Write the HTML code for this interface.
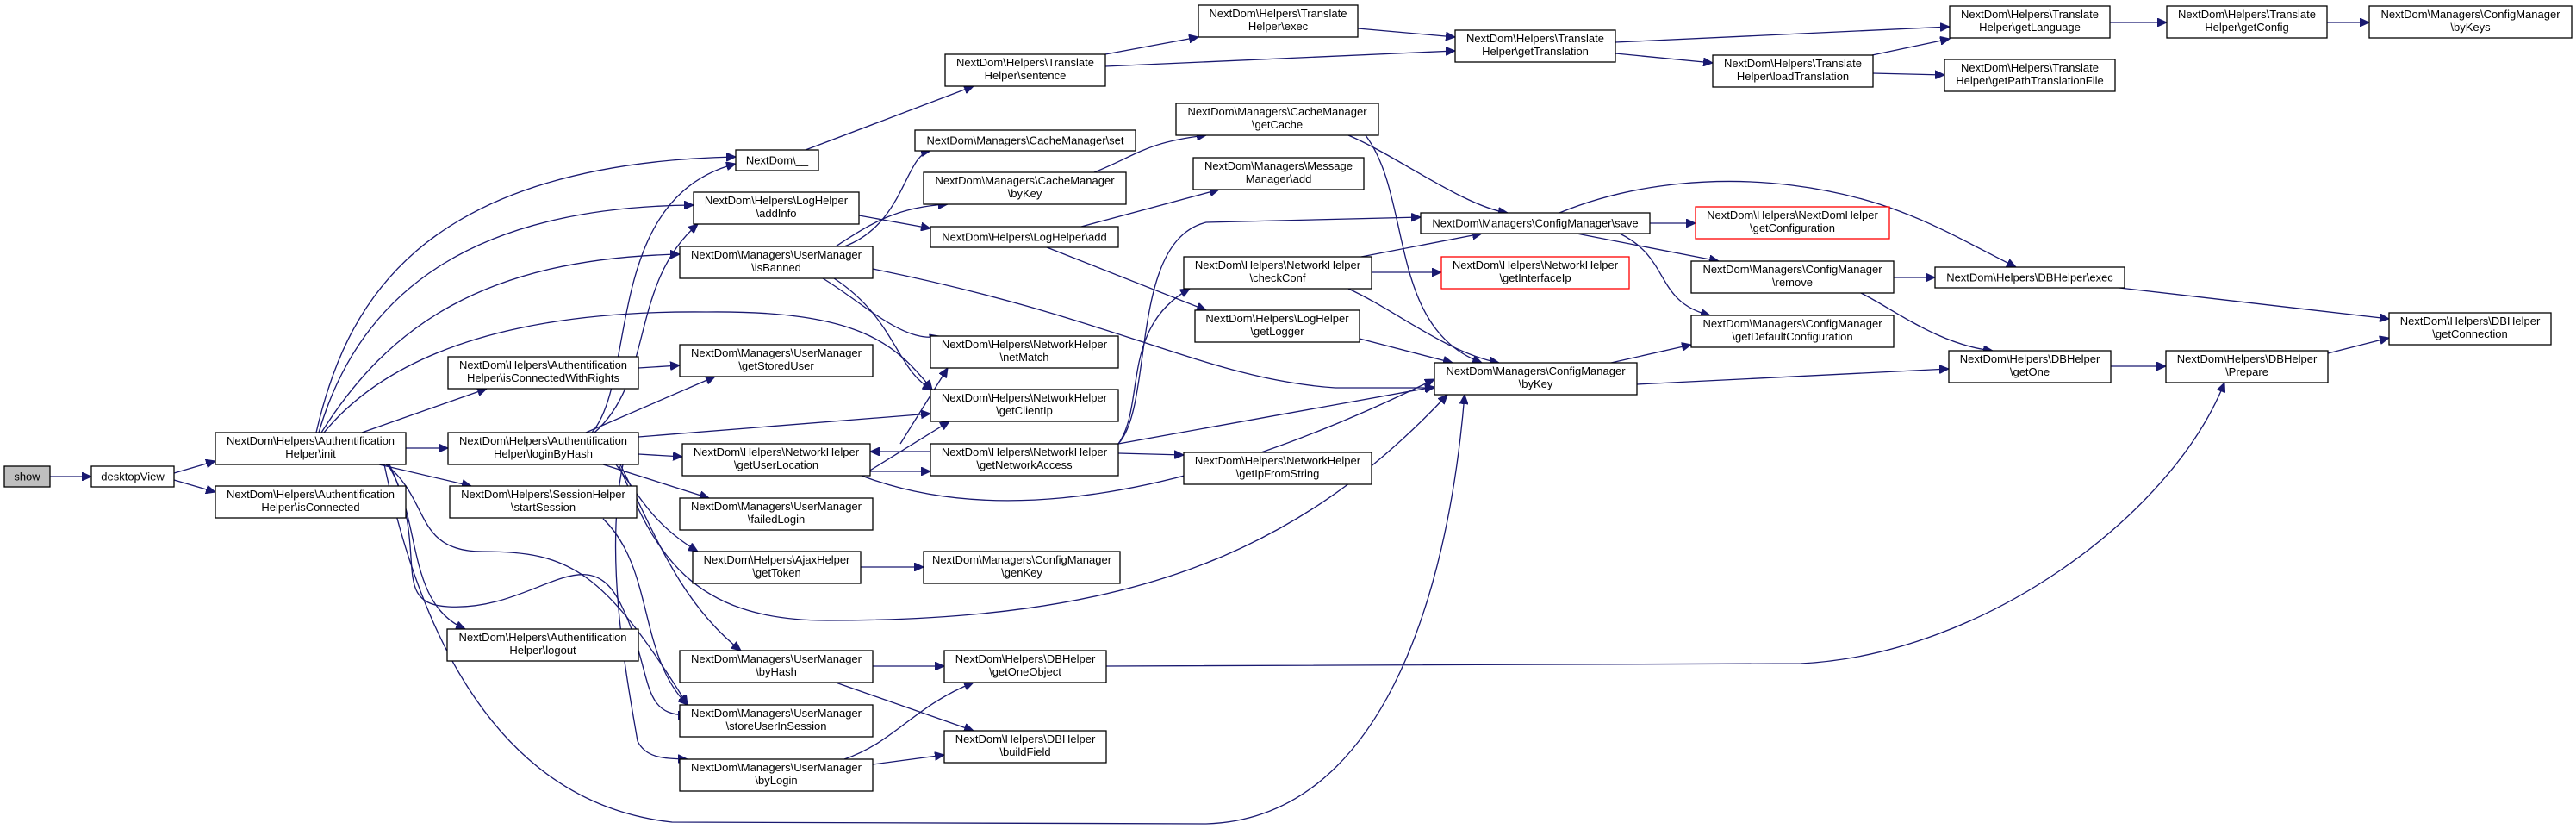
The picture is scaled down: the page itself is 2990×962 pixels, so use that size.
<!DOCTYPE html>
<html><head><meta charset="utf-8"><style>
html,body{margin:0;padding:0;background:#fff}
svg{display:block}
text{font-family:"Liberation Sans",Arial,sans-serif;font-size:13px;fill:#000}
.n{fill:#fff;stroke:#000;stroke-width:1.3}
.r{fill:#fff;stroke:#f00;stroke-width:1.3}
.e{fill:none;stroke:#191970;stroke-width:1.3;marker-end:url(#a)}
</style></head><body>
<svg width="2990" height="962" viewBox="0 0 2990 962" xmlns="http://www.w3.org/2000/svg">
<defs><marker id="a" markerWidth="12" markerHeight="10" refX="11" refY="5" orient="auto" markerUnits="userSpaceOnUse"><path d="M0,0 L11,5 L0,10 z" fill="#191970" stroke="#191970"/></marker></defs>
<g>
<path class="e" d="M58,553 L106,553"/>
<path class="e" d="M202,549 L250,535"/>
<path class="e" d="M202,557 L250,571"/>
<path class="e" d="M367,502 C400,360 480,190 854,182"/>
<path class="e" d="M370,502 C420,330 560,240 805,238"/>
<path class="e" d="M373,502 C450,380 560,300 789,295"/>
<path class="e" d="M376,502 C460,400 620,360 820,362 C1000,360 1040,400 1082,452"/>
<path class="e" d="M420,502 L565,451"/>
<path class="e" d="M471,520 L520,520"/>
<path class="e" d="M440,539 L547,564"/>
<path class="e" d="M448,539 C500,580 480,640 560,640 C660,640 700,660 798,818"/>
<path class="e" d="M450,539 C490,600 470,700 540,730"/>
<path class="e" d="M452,539 C500,640 450,700 520,704 C620,710 680,620 720,700 C760,780 740,830 798,830"/>
<path class="e" d="M446,539 C480,700 560,930 780,954 L1400,956 C1600,950 1680,700 1700,458"/>
<path class="e" d="M687,502 C740,440 700,230 854,190"/>
<path class="e" d="M690,502 C760,440 730,330 810,260"/>
<path class="e" d="M680,502 L830,437"/>
<path class="e" d="M741,507 L1080,480"/>
<path class="e" d="M741,527 L792,530"/>
<path class="e" d="M700,539 L823,578"/>
<path class="e" d="M715,539 C745,580 760,610 810,640"/>
<path class="e" d="M720,539 C760,620 790,700 860,755"/>
<path class="e" d="M723,539 C700,650 730,800 740,860 C750,880 770,880 798,881"/>
<path class="e" d="M718,539 C760,640 800,720 960,720 C1300,720 1500,650 1680,458"/>
<path class="e" d="M700,602 C760,660 740,760 798,818"/>
<path class="e" d="M741,427 L789,424"/>
<path class="e" d="M1013,312 C1300,370 1400,440 1550,450 L1665,450"/>
<path class="e" d="M955,323 C1000,350 1050,400 1090,390"/>
<path class="e" d="M968,323 C1040,370 1040,430 1082,452"/>
<path class="e" d="M980,286 C1050,260 1050,180 1080,175"/>
<path class="e" d="M970,286 C1010,260 1040,240 1100,237"/>
<path class="e" d="M997,250 L1080,265"/>
<path class="e" d="M935,174 L1130,100"/>
<path class="e" d="M1283,63 L1391,43"/>
<path class="e" d="M1283,77 L1689,59"/>
<path class="e" d="M1576,33 L1689,43"/>
<path class="e" d="M1875,49 L2263,31"/>
<path class="e" d="M1875,62 L1988,73"/>
<path class="e" d="M2173,64 L2263,45"/>
<path class="e" d="M2173,85 L2257,87"/>
<path class="e" d="M2449,26 L2515,26"/>
<path class="e" d="M2701,26 L2750,26"/>
<path class="e" d="M1270,200 C1320,180 1330,165 1400,157"/>
<path class="e" d="M1565,157 C1620,180 1700,240 1750,247"/>
<path class="e" d="M1585,157 C1640,230 1610,380 1720,421"/>
<path class="e" d="M1255,263 L1415,220"/>
<path class="e" d="M1215,287 L1400,360"/>
<path class="e" d="M1578,393 L1686,421"/>
<path class="e" d="M1045,515 L1100,427"/>
<path class="e" d="M1000,552 L1102,489"/>
<path class="e" d="M1010,547 L1080,547"/>
<path class="e" d="M1000,552 C1100,590 1300,620 1665,440"/>
<path class="e" d="M1080,524 L1010,524"/>
<path class="e" d="M1298,515 C1330,470 1300,380 1381,335"/>
<path class="e" d="M1298,515 C1340,470 1310,280 1400,258 L1649,252"/>
<path class="e" d="M1298,515 L1665,449"/>
<path class="e" d="M1298,526 L1374,528"/>
<path class="e" d="M1580,298 L1720,271"/>
<path class="e" d="M1592,316 L1673,316"/>
<path class="e" d="M1565,335 C1620,360 1680,410 1740,421"/>
<path class="e" d="M1915,259 L1968,259"/>
<path class="e" d="M1810,247 C1900,210 2000,205 2080,215 C2200,230 2260,270 2340,310"/>
<path class="e" d="M1830,271 L1995,303"/>
<path class="e" d="M1880,271 C1940,300 1920,350 1985,366"/>
<path class="e" d="M1870,421 L1963,400"/>
<path class="e" d="M1900,446 L2262,428"/>
<path class="e" d="M2198,322 L2246,322"/>
<path class="e" d="M2160,340 C2200,360 2250,400 2313,407"/>
<path class="e" d="M2460,334 L2773,370"/>
<path class="e" d="M2450,425 L2514,425"/>
<path class="e" d="M2702,410 L2773,392"/>
<path class="e" d="M1013,773 L1096,773"/>
<path class="e" d="M970,792 L1130,848"/>
<path class="e" d="M980,881 C1040,860 1060,820 1130,792"/>
<path class="e" d="M1013,887 L1096,876"/>
<path class="e" d="M1284,773 L2090,770 C2300,760 2520,600 2582,444"/>
<path class="e" d="M999,658 L1072,658"/>
</g>
<g>
<rect x="5" y="541" width="53" height="24" fill="#bfbfbf" stroke="#000" stroke-width="1.3"/><text x="31.5" y="557.5" text-anchor="middle">show</text>
<rect class="n" x="106" y="541" width="96" height="24"/><text x="154" y="557.5" text-anchor="middle">desktopView</text>
</g>
<g text-anchor="middle">
<rect class="n" x="250" y="502" width="221" height="37"/><text x="360.5" y="516">NextDom\Helpers\Authentification</text><text x="360.5" y="531">Helper\init</text>
<rect class="n" x="250" y="564" width="221" height="37"/><text x="360.5" y="578">NextDom\Helpers\Authentification</text><text x="360.5" y="593">Helper\isConnected</text>
<rect class="n" x="854" y="174" width="96" height="24"/><text x="902" y="190.5">NextDom\__</text>
<rect class="n" x="805" y="223" width="192" height="37"/><text x="901" y="237">NextDom\Helpers\LogHelper</text><text x="901" y="252">\addInfo</text>
<rect class="n" x="789" y="286" width="224" height="37"/><text x="901" y="300">NextDom\Managers\UserManager</text><text x="901" y="315">\isBanned</text>
<rect class="n" x="520" y="414" width="221" height="37"/><text x="630.5" y="428">NextDom\Helpers\Authentification</text><text x="630.5" y="443">Helper\isConnectedWithRights</text>
<rect class="n" x="789" y="400" width="224" height="37"/><text x="901" y="414">NextDom\Managers\UserManager</text><text x="901" y="429">\getStoredUser</text>
<rect class="n" x="520" y="502" width="221" height="37"/><text x="630.5" y="516">NextDom\Helpers\Authentification</text><text x="630.5" y="531">Helper\loginByHash</text>
<rect class="n" x="792" y="515" width="218" height="37"/><text x="901" y="529">NextDom\Helpers\NetworkHelper</text><text x="901" y="544">\getUserLocation</text>
<rect class="n" x="522" y="564" width="217" height="37"/><text x="630.5" y="578">NextDom\Helpers\SessionHelper</text><text x="630.5" y="593">\startSession</text>
<rect class="n" x="789" y="578" width="224" height="37"/><text x="901" y="592">NextDom\Managers\UserManager</text><text x="901" y="607">\failedLogin</text>
<rect class="n" x="804" y="640" width="195" height="37"/><text x="901.5" y="654">NextDom\Helpers\AjaxHelper</text><text x="901.5" y="669">\getToken</text>
<rect class="n" x="1072" y="640" width="228" height="37"/><text x="1186" y="654">NextDom\Managers\ConfigManager</text><text x="1186" y="669">\genKey</text>
<rect class="n" x="519" y="730" width="222" height="37"/><text x="630" y="744">NextDom\Helpers\Authentification</text><text x="630" y="759">Helper\logout</text>
<rect class="n" x="789" y="755" width="224" height="37"/><text x="901" y="769">NextDom\Managers\UserManager</text><text x="901" y="784">\byHash</text>
<rect class="n" x="789" y="818" width="224" height="37"/><text x="901" y="832">NextDom\Managers\UserManager</text><text x="901" y="847">\storeUserInSession</text>
<rect class="n" x="789" y="881" width="224" height="37"/><text x="901" y="895">NextDom\Managers\UserManager</text><text x="901" y="910">\byLogin</text>
<rect class="n" x="1096" y="755" width="188" height="37"/><text x="1190" y="769">NextDom\Helpers\DBHelper</text><text x="1190" y="784">\getOneObject</text>
<rect class="n" x="1096" y="848" width="188" height="37"/><text x="1190" y="862">NextDom\Helpers\DBHelper</text><text x="1190" y="877">\buildField</text>
<rect class="n" x="1097" y="63" width="186" height="37"/><text x="1190" y="77">NextDom\Helpers\Translate</text><text x="1190" y="92">Helper\sentence</text>
<rect class="n" x="1391" y="6" width="185" height="37"/><text x="1483.5" y="20">NextDom\Helpers\Translate</text><text x="1483.5" y="35">Helper\exec</text>
<rect class="n" x="1689" y="35" width="186" height="37"/><text x="1782" y="49">NextDom\Helpers\Translate</text><text x="1782" y="64">Helper\getTranslation</text>
<rect class="n" x="1365" y="120" width="235" height="37"/><text x="1482.5" y="134">NextDom\Managers\CacheManager</text><text x="1482.5" y="149">\getCache</text>
<rect class="n" x="1062" y="151" width="256" height="24"/><text x="1190" y="167.5">NextDom\Managers\CacheManager\set</text>
<rect class="n" x="1072" y="200" width="235" height="37"/><text x="1189.5" y="214">NextDom\Managers\CacheManager</text><text x="1189.5" y="229">\byKey</text>
<rect class="n" x="1385" y="183" width="198" height="37"/><text x="1484" y="197">NextDom\Managers\Message</text><text x="1484" y="212">Manager\add</text>
<rect class="n" x="1080" y="263" width="218" height="24"/><text x="1189" y="279.5">NextDom\Helpers\LogHelper\add</text>
<rect class="n" x="1649" y="247" width="266" height="24"/><text x="1782" y="263.5">NextDom\Managers\ConfigManager\save</text>
<rect class="r" x="1968" y="240" width="225" height="37"/><text x="2080.5" y="254">NextDom\Helpers\NextDomHelper</text><text x="2080.5" y="269">\getConfiguration</text>
<rect class="n" x="2263" y="7" width="186" height="37"/><text x="2356" y="21">NextDom\Helpers\Translate</text><text x="2356" y="36">Helper\getLanguage</text>
<rect class="n" x="2515" y="7" width="186" height="37"/><text x="2608" y="21">NextDom\Helpers\Translate</text><text x="2608" y="36">Helper\getConfig</text>
<rect class="n" x="2750" y="7" width="235" height="37"/><text x="2867.5" y="21">NextDom\Managers\ConfigManager</text><text x="2867.5" y="36">\byKeys</text>
<rect class="n" x="1988" y="64" width="186" height="37"/><text x="2081" y="78">NextDom\Helpers\Translate</text><text x="2081" y="93">Helper\loadTranslation</text>
<rect class="n" x="2257" y="69" width="198" height="37"/><text x="2356" y="83">NextDom\Helpers\Translate</text><text x="2356" y="98">Helper\getPathTranslationFile</text>
<rect class="n" x="1374" y="298" width="218" height="37"/><text x="1483" y="312">NextDom\Helpers\NetworkHelper</text><text x="1483" y="327">\checkConf</text>
<rect class="r" x="1673" y="298" width="218" height="37"/><text x="1782" y="312">NextDom\Helpers\NetworkHelper</text><text x="1782" y="327">\getInterfaceIp</text>
<rect class="n" x="1387" y="360" width="191" height="37"/><text x="1482.5" y="374">NextDom\Helpers\LogHelper</text><text x="1482.5" y="389">\getLogger</text>
<rect class="n" x="1665" y="421" width="235" height="37"/><text x="1782.5" y="435">NextDom\Managers\ConfigManager</text><text x="1782.5" y="450">\byKey</text>
<rect class="n" x="1080" y="390" width="218" height="37"/><text x="1189" y="404">NextDom\Helpers\NetworkHelper</text><text x="1189" y="419">\netMatch</text>
<rect class="n" x="1080" y="452" width="218" height="37"/><text x="1189" y="466">NextDom\Helpers\NetworkHelper</text><text x="1189" y="481">\getClientIp</text>
<rect class="n" x="1080" y="515" width="218" height="37"/><text x="1189" y="529">NextDom\Helpers\NetworkHelper</text><text x="1189" y="544">\getNetworkAccess</text>
<rect class="n" x="1374" y="525" width="218" height="37"/><text x="1483" y="539">NextDom\Helpers\NetworkHelper</text><text x="1483" y="554">\getIpFromString</text>
<rect class="n" x="1963" y="303" width="235" height="37"/><text x="2080.5" y="317">NextDom\Managers\ConfigManager</text><text x="2080.5" y="332">\remove</text>
<rect class="n" x="1963" y="366" width="235" height="37"/><text x="2080.5" y="380">NextDom\Managers\ConfigManager</text><text x="2080.5" y="395">\getDefaultConfiguration</text>
<rect class="n" x="2246" y="310" width="220" height="24"/><text x="2356" y="326.5">NextDom\Helpers\DBHelper\exec</text>
<rect class="n" x="2262" y="407" width="188" height="37"/><text x="2356" y="421">NextDom\Helpers\DBHelper</text><text x="2356" y="436">\getOne</text>
<rect class="n" x="2514" y="407" width="188" height="37"/><text x="2608" y="421">NextDom\Helpers\DBHelper</text><text x="2608" y="436">\Prepare</text>
<rect class="n" x="2773" y="363" width="188" height="37"/><text x="2867" y="377">NextDom\Helpers\DBHelper</text><text x="2867" y="392">\getConnection</text>
</g>
</svg>
</body></html>
